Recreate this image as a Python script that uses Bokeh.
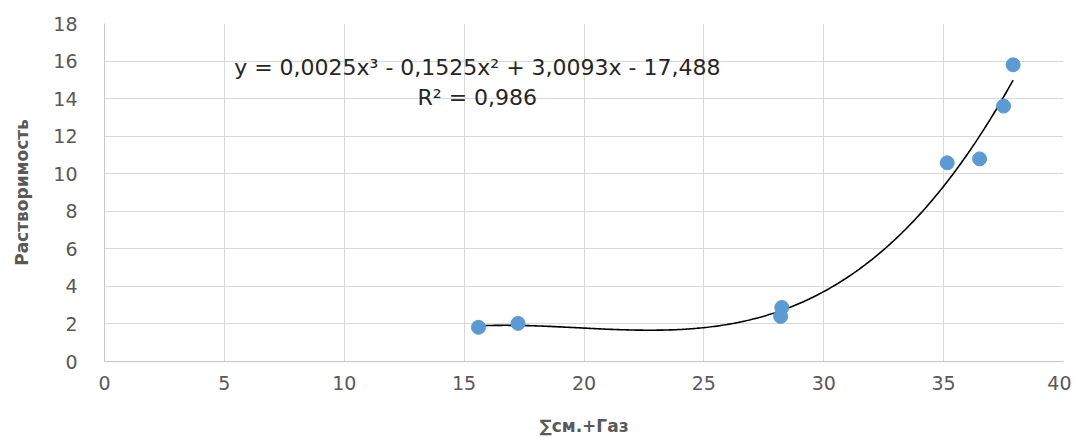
import numpy as np
from bokeh.plotting import figure
from bokeh.models import FixedTicker, Range1d, Label
from bokeh.embed import file_html
from bokeh.resources import INLINE

# Data
x_vals = [15.6, 17.25, 28.2, 28.25, 35.15, 36.5, 37.5, 37.9]
y_vals = [1.82, 2.03, 2.4, 2.88, 10.58, 10.79, 13.6, 15.8]

x_ticks = [0, 5, 10, 15, 20, 25, 30, 35, 40]
y_ticks = [0, 2, 4, 6, 8, 10, 12, 14, 16, 18]

equation_text = "y = 0,0025x³ - 0,1525x² + 3,0093x - 17,488"
r2_text = "R² = 0,986"
x_title = "∑см.+Газ"
y_title = "Растворимость"

FONT = "DejaVu Sans"
GRAY = "#595959"

p = figure(width=1071, height=438, output_backend="svg", toolbar_location=None,
           x_range=Range1d(0, 40), y_range=Range1d(0, 18),
           min_border_left=104, min_border_right=8, min_border_top=23, min_border_bottom=77)
p.outline_line_color = None
p.background_fill_color = "white"
p.border_fill_color = "white"

for ax, ticks in ((p.xaxis[0], x_ticks), (p.yaxis[0], y_ticks)):
    ax.ticker = FixedTicker(ticks=ticks)
    ax.major_tick_line_color = None
    ax.minor_tick_line_color = None
    ax.major_tick_out = 0
    ax.major_tick_in = 0
    ax.axis_line_color = "#C8C8C8"
    ax.major_label_text_font = FONT
    ax.major_label_text_font_size = "19px"
    ax.major_label_text_color = GRAY
    ax.axis_label_text_font = FONT
    ax.axis_label_text_font_size = "17px"
    ax.axis_label_text_font_style = "bold"
    ax.axis_label_text_color = GRAY

p.xaxis.axis_label = x_title
p.yaxis.axis_label = y_title
p.xaxis.major_label_standoff = 14
p.xaxis.axis_label_standoff = 23
p.yaxis.major_label_standoff = 27
p.yaxis.axis_label_standoff = 18

p.xgrid.ticker = FixedTicker(ticks=x_ticks)
p.ygrid.ticker = FixedTicker(ticks=y_ticks)
p.grid.grid_line_color = "#D9D9D9"
p.grid.grid_line_width = 1

# Polynomial (cubic) trendline fitted to the data
coef = np.polyfit(x_vals, y_vals, 3)
xs = np.linspace(min(x_vals), max(x_vals), 300)
ys = np.polyval(coef, xs)
p.line(xs, ys, line_color="black", line_width=1.6)

p.scatter(x_vals, y_vals, size=14, fill_color="#5B9BD5", line_color="#5B9BD5", marker="circle")

p.add_layout(Label(x=15.55, y=15.65, text=equation_text, text_align="center", text_baseline="middle",
                   text_font=FONT, text_font_size="22px", text_color="#262626"))
p.add_layout(Label(x=15.55, y=14.05, text=r2_text, text_align="center", text_baseline="middle",
                   text_font=FONT, text_font_size="22px", text_color="#262626"))

open("out.html", "w").write(file_html(p, INLINE))
